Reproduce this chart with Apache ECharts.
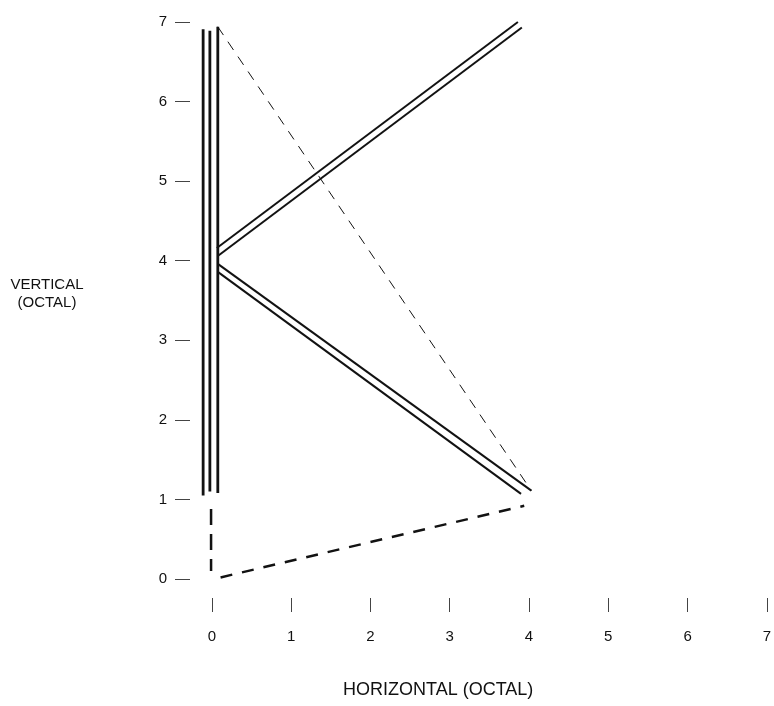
<!DOCTYPE html>
<html>
<head>
<meta charset="utf-8">
<script src="https://cdn.jsdelivr.net/npm/echarts@6/dist/echarts.min.js"></script>
<style>
  html, body { margin: 0; padding: 0; background: #fff; }
  #chart { width: 774px; height: 706px; }
</style>
</head>
<body>
<div id="chart"></div>
<script>
// tick labels
const xTickValues = [0, 1, 2, 3, 4, 5, 6, 7]
const xTicks = ['0', '1', '2', '3', '4', '5', '6', '7']
const yTicks = ['0', '1', '2', '3', '4', '5', '6', '7']

// the "K" stem: three vertical strokes
const stemLeft = [[-0.11, 1.05], [-0.11, 6.91]]
const stemMid = [[-0.025, 1.1], [-0.025, 6.89]]
const stemRight = [[0.075, 1.08], [0.075, 6.94]]

// upper arm (double line)
const upperArmA = [[0.063, 4.16], [3.86, 7.0]]
const upperArmB = [[0.075, 4.06], [3.91, 6.93]]

// lower arm (double line)
const lowerArmA = [[0.075, 3.96], [4.03, 1.11]]
const lowerArmB = [[0.075, 3.86], [3.9, 1.07]]

// dashed moves
const thinDash = [[0.075, 6.94], [4.03, 1.11]]
const bottomDash = [[0.11, 0.02], [3.94, 0.92]]
const stemDash = [[-0.01, 0.88], [-0.01, 0.1]]

const ink = '#121212'
const font = 'Liberation Sans, Arial, sans-serif'

function stroke(data, width, type) {
  return {
    type: 'line',
    data: data,
    showSymbol: false,
    symbol: 'none',
    clip: false,
    silent: true,
    lineStyle: { color: ink, width: width, type: type || 'solid' }
  }
}

const chart = echarts.init(document.getElementById('chart'))
chart.setOption({
  animation: false,
  backgroundColor: '#fff',
  grid: { left: 196, right: 4, top: 22, bottom: 127 },
  xAxis: {
    type: 'value',
    min: -0.2,
    max: 7,
    offset: 19,
    axisLine: { show: false, onZero: false },
    splitLine: { show: false },
    axisTick: {
      show: true,
      length: 14,
      customValues: xTickValues,
      lineStyle: { color: '#444', width: 1 }
    },
    axisLabel: {
      margin: 31,
      color: '#111',
      fontSize: 15,
      fontFamily: font,
      customValues: xTickValues,
      formatter: v => xTicks[Math.round(v)]
    }
  },
  yAxis: {
    type: 'value',
    min: 0,
    max: 7,
    interval: 1,
    offset: 6,
    axisLine: { show: false, onZero: false },
    splitLine: { show: false },
    axisTick: { show: true, length: 15, lineStyle: { color: '#444', width: 1 } },
    axisLabel: {
      margin: 23,
      color: '#111',
      fontSize: 15,
      fontFamily: font,
      formatter: v => yTicks[v]
    }
  },
  graphic: [
    {
      type: 'text',
      x: 47,
      y: 294,
      style: {
        text: 'VERTICAL\n(OCTAL)',
        fill: '#111',
        font: '15px ' + font,
        align: 'center',
        verticalAlign: 'middle',
        lineHeight: 18
      }
    },
    {
      type: 'text',
      x: 343,
      y: 690,
      style: {
        text: 'HORIZONTAL (OCTAL)',
        fill: '#111',
        font: '18px ' + font,
        verticalAlign: 'middle'
      }
    }
  ],
  series: [
    stroke(stemLeft, 2.8),
    stroke(stemMid, 2.8),
    stroke(stemRight, 2.8),
    stroke(upperArmA, 2),
    stroke(upperArmB, 2),
    stroke(lowerArmA, 2),
    stroke(lowerArmB, 2),
    stroke(thinDash, 1, [10, 8]),
    stroke(bottomDash, 2.5, [12, 10]),
    stroke(stemDash, 2.5, [16, 9])
  ]
})
</script>
</body>
</html>
